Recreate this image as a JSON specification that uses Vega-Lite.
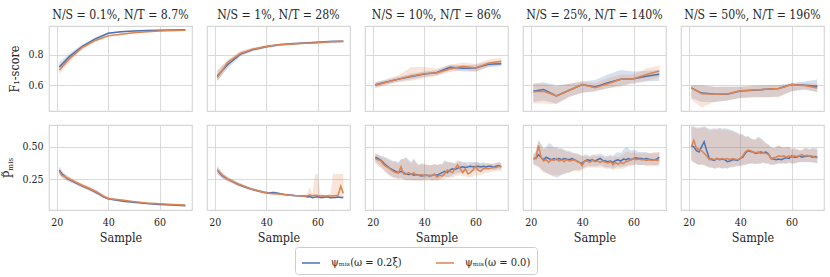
{
"$schema": "https://vega.github.io/schema/vega-lite/v6.json",
"padding": {"left": 2, "top": 8, "right": 5, "bottom": 5},
"background": "white",
"config": {
  "font": "'DejaVu Serif Condensed', 'DejaVu Serif', serif",
  "view": {"stroke": "#d6d6d6", "strokeWidth": 1.2},
  "axis": {"grid": true, "gridColor": "#d9d9d9", "gridWidth": 1, "domain": false, "ticks": false, "labelFontSize": 10.5, "titleFontSize": 12.5, "labelColor": "#262626", "titleColor": "#262626", "titleFontWeight": "normal", "labelFont": "'DejaVu Serif Condensed', 'DejaVu Serif', serif", "titleFont": "'DejaVu Serif Condensed', 'DejaVu Serif', serif"},
  "header": {"labelFont": "'DejaVu Serif Condensed', 'DejaVu Serif', serif", "labelFontSize": 12.2, "labelColor": "#262626"},
  "legend": {"labelFont": "'DejaVu Serif Condensed', 'DejaVu Serif', serif"}
},
"datasets": {
"top": [
{"p":1,"s":"a","x":21,"m":0.72,"l":0.69,"h":0.75},{"p":1,"s":"a","x":25,"m":0.79,"l":0.77,"h":0.81},{"p":1,"s":"a","x":30,"m":0.855,"l":0.84,"h":0.87},{"p":1,"s":"a","x":35,"m":0.905,"l":0.895,"h":0.915},{"p":1,"s":"a","x":40,"m":0.942,"l":0.935,"h":0.948},{"p":1,"s":"a","x":45,"m":0.952,"l":0.947,"h":0.957},{"p":1,"s":"a","x":50,"m":0.957,"l":0.953,"h":0.961},{"p":1,"s":"a","x":55,"m":0.96,"l":0.956,"h":0.964},{"p":1,"s":"a","x":60,"m":0.962,"l":0.958,"h":0.966},{"p":1,"s":"a","x":65,"m":0.963,"l":0.96,"h":0.967},{"p":1,"s":"a","x":70,"m":0.965,"l":0.962,"h":0.968},
{"p":1,"s":"b","x":21,"m":0.70,"l":0.67,"h":0.73},{"p":1,"s":"b","x":25,"m":0.775,"l":0.755,"h":0.795},{"p":1,"s":"b","x":30,"m":0.85,"l":0.835,"h":0.865},{"p":1,"s":"b","x":35,"m":0.895,"l":0.885,"h":0.905},{"p":1,"s":"b","x":40,"m":0.925,"l":0.918,"h":0.932},{"p":1,"s":"b","x":45,"m":0.935,"l":0.929,"h":0.941},{"p":1,"s":"b","x":50,"m":0.945,"l":0.94,"h":0.95},{"p":1,"s":"b","x":55,"m":0.952,"l":0.948,"h":0.956},{"p":1,"s":"b","x":60,"m":0.957,"l":0.953,"h":0.961},{"p":1,"s":"b","x":65,"m":0.96,"l":0.956,"h":0.964},{"p":1,"s":"b","x":70,"m":0.962,"l":0.959,"h":0.966},
{"p":2,"s":"a","x":21,"m":0.66,"l":0.63,"h":0.69},{"p":2,"s":"a","x":25,"m":0.735,"l":0.71,"h":0.76},{"p":2,"s":"a","x":30,"m":0.805,"l":0.79,"h":0.82},{"p":2,"s":"a","x":35,"m":0.835,"l":0.825,"h":0.845},{"p":2,"s":"a","x":40,"m":0.853,"l":0.845,"h":0.861},{"p":2,"s":"a","x":45,"m":0.866,"l":0.859,"h":0.873},{"p":2,"s":"a","x":50,"m":0.873,"l":0.866,"h":0.88},{"p":2,"s":"a","x":55,"m":0.878,"l":0.871,"h":0.885},{"p":2,"s":"a","x":60,"m":0.883,"l":0.876,"h":0.89},{"p":2,"s":"a","x":65,"m":0.888,"l":0.882,"h":0.894},{"p":2,"s":"a","x":70,"m":0.89,"l":0.884,"h":0.896},
{"p":2,"s":"b","x":21,"m":0.65,"l":0.62,"h":0.70},{"p":2,"s":"b","x":25,"m":0.75,"l":0.73,"h":0.77},{"p":2,"s":"b","x":30,"m":0.81,"l":0.795,"h":0.825},{"p":2,"s":"b","x":35,"m":0.838,"l":0.828,"h":0.848},{"p":2,"s":"b","x":40,"m":0.855,"l":0.847,"h":0.863},{"p":2,"s":"b","x":45,"m":0.867,"l":0.86,"h":0.874},{"p":2,"s":"b","x":50,"m":0.872,"l":0.865,"h":0.879},{"p":2,"s":"b","x":55,"m":0.876,"l":0.869,"h":0.883},{"p":2,"s":"b","x":60,"m":0.88,"l":0.873,"h":0.887},{"p":2,"s":"b","x":65,"m":0.886,"l":0.88,"h":0.893},{"p":2,"s":"b","x":70,"m":0.888,"l":0.882,"h":0.895},
{"p":3,"s":"a","x":21,"m":0.603,"l":0.585,"h":0.62},{"p":3,"s":"a","x":25,"m":0.62,"l":0.605,"h":0.635},{"p":3,"s":"a","x":30,"m":0.64,"l":0.625,"h":0.655},{"p":3,"s":"a","x":35,"m":0.657,"l":0.64,"h":0.675},{"p":3,"s":"a","x":40,"m":0.673,"l":0.655,"h":0.69},{"p":3,"s":"a","x":45,"m":0.684,"l":0.665,"h":0.70},{"p":3,"s":"a","x":50,"m":0.718,"l":0.70,"h":0.735},{"p":3,"s":"a","x":55,"m":0.712,"l":0.69,"h":0.73},{"p":3,"s":"a","x":60,"m":0.713,"l":0.69,"h":0.735},{"p":3,"s":"a","x":65,"m":0.738,"l":0.72,"h":0.755},{"p":3,"s":"a","x":70,"m":0.742,"l":0.725,"h":0.76},
{"p":3,"s":"b","x":21,"m":0.60,"l":0.58,"h":0.62},{"p":3,"s":"b","x":25,"m":0.618,"l":0.60,"h":0.64},{"p":3,"s":"b","x":30,"m":0.64,"l":0.62,"h":0.665},{"p":3,"s":"b","x":35,"m":0.66,"l":0.63,"h":0.72},{"p":3,"s":"b","x":40,"m":0.675,"l":0.645,"h":0.72},{"p":3,"s":"b","x":45,"m":0.682,"l":0.66,"h":0.71},{"p":3,"s":"b","x":50,"m":0.707,"l":0.685,"h":0.735},{"p":3,"s":"b","x":55,"m":0.725,"l":0.70,"h":0.75},{"p":3,"s":"b","x":60,"m":0.713,"l":0.69,"h":0.74},{"p":3,"s":"b","x":65,"m":0.745,"l":0.72,"h":0.77},{"p":3,"s":"b","x":70,"m":0.758,"l":0.735,"h":0.78},
{"p":4,"s":"a","x":21,"m":0.56,"l":0.49,"h":0.61},{"p":4,"s":"a","x":25,"m":0.572,"l":0.50,"h":0.62},{"p":4,"s":"a","x":30,"m":0.53,"l":0.48,"h":0.60},{"p":4,"s":"a","x":35,"m":0.567,"l":0.525,"h":0.61},{"p":4,"s":"a","x":40,"m":0.604,"l":0.55,"h":0.625},{"p":4,"s":"a","x":45,"m":0.589,"l":0.56,"h":0.635},{"p":4,"s":"a","x":50,"m":0.617,"l":0.58,"h":0.67},{"p":4,"s":"a","x":55,"m":0.639,"l":0.60,"h":0.70},{"p":4,"s":"a","x":60,"m":0.643,"l":0.61,"h":0.69},{"p":4,"s":"a","x":65,"m":0.659,"l":0.625,"h":0.695},{"p":4,"s":"a","x":70,"m":0.672,"l":0.63,"h":0.70},
{"p":4,"s":"b","x":21,"m":0.557,"l":0.48,"h":0.61},{"p":4,"s":"b","x":25,"m":0.56,"l":0.48,"h":0.61},{"p":4,"s":"b","x":30,"m":0.53,"l":0.475,"h":0.59},{"p":4,"s":"b","x":35,"m":0.567,"l":0.52,"h":0.61},{"p":4,"s":"b","x":40,"m":0.604,"l":0.55,"h":0.625},{"p":4,"s":"b","x":45,"m":0.583,"l":0.56,"h":0.615},{"p":4,"s":"b","x":50,"m":0.61,"l":0.58,"h":0.645},{"p":4,"s":"b","x":55,"m":0.639,"l":0.59,"h":0.67},{"p":4,"s":"b","x":60,"m":0.643,"l":0.62,"h":0.67},{"p":4,"s":"b","x":65,"m":0.67,"l":0.63,"h":0.71},{"p":4,"s":"b","x":70,"m":0.693,"l":0.65,"h":0.73},
{"p":5,"s":"a","x":21,"m":0.582,"l":0.515,"h":0.60},{"p":5,"s":"a","x":25,"m":0.548,"l":0.49,"h":0.60},{"p":5,"s":"a","x":30,"m":0.542,"l":0.49,"h":0.59},{"p":5,"s":"a","x":35,"m":0.54,"l":0.50,"h":0.59},{"p":5,"s":"a","x":40,"m":0.562,"l":0.515,"h":0.59},{"p":5,"s":"a","x":45,"m":0.567,"l":0.52,"h":0.595},{"p":5,"s":"a","x":50,"m":0.573,"l":0.52,"h":0.60},{"p":5,"s":"a","x":55,"m":0.578,"l":0.525,"h":0.60},{"p":5,"s":"a","x":60,"m":0.604,"l":0.56,"h":0.615},{"p":5,"s":"a","x":65,"m":0.60,"l":0.57,"h":0.625},{"p":5,"s":"a","x":70,"m":0.593,"l":0.555,"h":0.637},
{"p":5,"s":"b","x":21,"m":0.582,"l":0.505,"h":0.60},{"p":5,"s":"b","x":25,"m":0.544,"l":0.453,"h":0.60},{"p":5,"s":"b","x":30,"m":0.542,"l":0.49,"h":0.59},{"p":5,"s":"b","x":35,"m":0.542,"l":0.50,"h":0.59},{"p":5,"s":"b","x":40,"m":0.564,"l":0.515,"h":0.59},{"p":5,"s":"b","x":45,"m":0.569,"l":0.52,"h":0.60},{"p":5,"s":"b","x":50,"m":0.573,"l":0.52,"h":0.60},{"p":5,"s":"b","x":55,"m":0.578,"l":0.52,"h":0.60},{"p":5,"s":"b","x":60,"m":0.604,"l":0.56,"h":0.61},{"p":5,"s":"b","x":65,"m":0.598,"l":0.575,"h":0.615},{"p":5,"s":"b","x":70,"m":0.582,"l":0.553,"h":0.61}
],
"bottom": [
{"p":1,"s":"a","x":21,"m":0.32,"l":0.29,"h":0.35},{"p":1,"s":"a","x":22,"m":0.29,"l":0.265,"h":0.315},{"p":1,"s":"a","x":24,"m":0.255,"l":0.235,"h":0.275},{"p":1,"s":"a","x":27,"m":0.225,"l":0.21,"h":0.24},{"p":1,"s":"a","x":30,"m":0.195,"l":0.18,"h":0.21},{"p":1,"s":"a","x":33,"m":0.17,"l":0.155,"h":0.185},{"p":1,"s":"a","x":36,"m":0.14,"l":0.125,"h":0.155},{"p":1,"s":"a","x":38,"m":0.115,"l":0.103,"h":0.127},{"p":1,"s":"a","x":40,"m":0.098,"l":0.088,"h":0.108},{"p":1,"s":"a","x":43,"m":0.088,"l":0.079,"h":0.097},{"p":1,"s":"a","x":46,"m":0.078,"l":0.07,"h":0.086},{"p":1,"s":"a","x":50,"m":0.07,"l":0.063,"h":0.077},{"p":1,"s":"a","x":55,"m":0.06,"l":0.054,"h":0.066},{"p":1,"s":"a","x":60,"m":0.053,"l":0.048,"h":0.058},{"p":1,"s":"a","x":65,"m":0.048,"l":0.043,"h":0.053},{"p":1,"s":"a","x":70,"m":0.043,"l":0.039,"h":0.047},
{"p":1,"s":"b","x":21,"m":0.31,"l":0.28,"h":0.34},{"p":1,"s":"b","x":22,"m":0.28,"l":0.26,"h":0.30},{"p":1,"s":"b","x":24,"m":0.26,"l":0.24,"h":0.28},{"p":1,"s":"b","x":27,"m":0.23,"l":0.215,"h":0.245},{"p":1,"s":"b","x":30,"m":0.20,"l":0.185,"h":0.215},{"p":1,"s":"b","x":33,"m":0.175,"l":0.16,"h":0.19},{"p":1,"s":"b","x":36,"m":0.145,"l":0.13,"h":0.16},{"p":1,"s":"b","x":38,"m":0.12,"l":0.108,"h":0.132},{"p":1,"s":"b","x":40,"m":0.10,"l":0.09,"h":0.11},{"p":1,"s":"b","x":43,"m":0.092,"l":0.083,"h":0.101},{"p":1,"s":"b","x":46,"m":0.085,"l":0.077,"h":0.093},{"p":1,"s":"b","x":50,"m":0.075,"l":0.068,"h":0.082},{"p":1,"s":"b","x":55,"m":0.065,"l":0.059,"h":0.071},{"p":1,"s":"b","x":60,"m":0.058,"l":0.053,"h":0.063},{"p":1,"s":"b","x":65,"m":0.053,"l":0.048,"h":0.058},{"p":1,"s":"b","x":70,"m":0.048,"l":0.044,"h":0.052},
{"p":2,"s":"a","x":21,"m":0.32,"l":0.29,"h":0.35},{"p":2,"s":"a","x":22,"m":0.295,"l":0.27,"h":0.32},{"p":2,"s":"a","x":23,"m":0.275,"l":0.255,"h":0.295},{"p":2,"s":"a","x":25,"m":0.25,"l":0.232,"h":0.268},{"p":2,"s":"a","x":27,"m":0.23,"l":0.215,"h":0.245},{"p":2,"s":"a","x":29,"m":0.21,"l":0.196,"h":0.224},{"p":2,"s":"a","x":31,"m":0.195,"l":0.182,"h":0.208},{"p":2,"s":"a","x":33,"m":0.18,"l":0.168,"h":0.192},{"p":2,"s":"a","x":35,"m":0.168,"l":0.157,"h":0.179},{"p":2,"s":"a","x":37,"m":0.157,"l":0.147,"h":0.167},{"p":2,"s":"a","x":39,"m":0.148,"l":0.139,"h":0.157},{"p":2,"s":"a","x":41,"m":0.142,"l":0.133,"h":0.151},{"p":2,"s":"a","x":43,"m":0.145,"l":0.136,"h":0.154},{"p":2,"s":"a","x":45,"m":0.138,"l":0.13,"h":0.146},{"p":2,"s":"a","x":47,"m":0.13,"l":0.122,"h":0.138},{"p":2,"s":"a","x":49,"m":0.127,"l":0.12,"h":0.134},{"p":2,"s":"a","x":51,"m":0.122,"l":0.115,"h":0.129},{"p":2,"s":"a","x":53,"m":0.12,"l":0.113,"h":0.127},{"p":2,"s":"a","x":55,"m":0.118,"l":0.111,"h":0.125},{"p":2,"s":"a","x":56,"m":0.112,"l":0.105,"h":0.119},{"p":2,"s":"a","x":57,"m":0.114,"l":0.107,"h":0.121},{"p":2,"s":"a","x":58,"m":0.106,"l":0.1,"h":0.112},{"p":2,"s":"a","x":59,"m":0.11,"l":0.104,"h":0.116},{"p":2,"s":"a","x":60,"m":0.112,"l":0.106,"h":0.118},{"p":2,"s":"a","x":61,"m":0.108,"l":0.102,"h":0.114},{"p":2,"s":"a","x":62,"m":0.107,"l":0.101,"h":0.113},{"p":2,"s":"a","x":63,"m":0.11,"l":0.104,"h":0.116},{"p":2,"s":"a","x":64,"m":0.11,"l":0.104,"h":0.116},{"p":2,"s":"a","x":65,"m":0.106,"l":0.1,"h":0.112},{"p":2,"s":"a","x":66,"m":0.108,"l":0.102,"h":0.114},{"p":2,"s":"a","x":67,"m":0.107,"l":0.101,"h":0.113},{"p":2,"s":"a","x":68,"m":0.11,"l":0.104,"h":0.116},{"p":2,"s":"a","x":69,"m":0.108,"l":0.102,"h":0.114},{"p":2,"s":"a","x":70,"m":0.108,"l":0.102,"h":0.114},
{"p":2,"s":"b","x":21,"m":0.32,"l":0.29,"h":0.35},{"p":2,"s":"b","x":22,"m":0.30,"l":0.275,"h":0.325},{"p":2,"s":"b","x":23,"m":0.28,"l":0.26,"h":0.30},{"p":2,"s":"b","x":25,"m":0.25,"l":0.232,"h":0.268},{"p":2,"s":"b","x":27,"m":0.232,"l":0.217,"h":0.247},{"p":2,"s":"b","x":29,"m":0.213,"l":0.199,"h":0.227},{"p":2,"s":"b","x":31,"m":0.197,"l":0.184,"h":0.21},{"p":2,"s":"b","x":33,"m":0.182,"l":0.17,"h":0.194},{"p":2,"s":"b","x":35,"m":0.168,"l":0.157,"h":0.179},{"p":2,"s":"b","x":37,"m":0.158,"l":0.148,"h":0.168},{"p":2,"s":"b","x":39,"m":0.148,"l":0.139,"h":0.157},{"p":2,"s":"b","x":41,"m":0.14,"l":0.131,"h":0.149},{"p":2,"s":"b","x":43,"m":0.137,"l":0.129,"h":0.145},{"p":2,"s":"b","x":45,"m":0.135,"l":0.127,"h":0.143},{"p":2,"s":"b","x":47,"m":0.13,"l":0.122,"h":0.138},{"p":2,"s":"b","x":49,"m":0.125,"l":0.118,"h":0.132},{"p":2,"s":"b","x":51,"m":0.122,"l":0.115,"h":0.129},{"p":2,"s":"b","x":53,"m":0.12,"l":0.113,"h":0.127},{"p":2,"s":"b","x":55,"m":0.117,"l":0.11,"h":0.124},{"p":2,"s":"b","x":56,"m":0.12,"l":0.112,"h":0.14},{"p":2,"s":"b","x":57,"m":0.128,"l":0.112,"h":0.19},{"p":2,"s":"b","x":58,"m":0.12,"l":0.112,"h":0.14},{"p":2,"s":"b","x":59,"m":0.125,"l":0.112,"h":0.29},{"p":2,"s":"b","x":60,"m":0.122,"l":0.112,"h":0.29},{"p":2,"s":"b","x":61,"m":0.118,"l":0.11,"h":0.14},{"p":2,"s":"b","x":62,"m":0.12,"l":0.112,"h":0.13},{"p":2,"s":"b","x":63,"m":0.118,"l":0.11,"h":0.126},{"p":2,"s":"b","x":64,"m":0.12,"l":0.112,"h":0.128},{"p":2,"s":"b","x":65,"m":0.118,"l":0.11,"h":0.14},{"p":2,"s":"b","x":66,"m":0.12,"l":0.112,"h":0.29},{"p":2,"s":"b","x":67,"m":0.12,"l":0.112,"h":0.29},{"p":2,"s":"b","x":68,"m":0.125,"l":0.112,"h":0.29},{"p":2,"s":"b","x":69,"m":0.195,"l":0.112,"h":0.29},{"p":2,"s":"b","x":70,"m":0.14,"l":0.112,"h":0.29},
{"p":3,"s":"a","x":21,"m":0.42,"l":0.38,"h":0.45},{"p":3,"s":"a","x":22,"m":0.41,"l":0.37,"h":0.44},{"p":3,"s":"a","x":23,"m":0.40,"l":0.35,"h":0.43},{"p":3,"s":"a","x":24,"m":0.38,"l":0.33,"h":0.43},{"p":3,"s":"a","x":25,"m":0.36,"l":0.31,"h":0.42},{"p":3,"s":"a","x":26,"m":0.345,"l":0.29,"h":0.41},{"p":3,"s":"a","x":27,"m":0.33,"l":0.275,"h":0.40},{"p":3,"s":"a","x":28,"m":0.32,"l":0.265,"h":0.39},{"p":3,"s":"a","x":29,"m":0.31,"l":0.26,"h":0.39},{"p":3,"s":"a","x":30,"m":0.30,"l":0.255,"h":0.38},{"p":3,"s":"a","x":31,"m":0.31,"l":0.255,"h":0.40},{"p":3,"s":"a","x":32,"m":0.30,"l":0.25,"h":0.41},{"p":3,"s":"a","x":33,"m":0.29,"l":0.245,"h":0.42},{"p":3,"s":"a","x":34,"m":0.285,"l":0.245,"h":0.40},{"p":3,"s":"a","x":35,"m":0.29,"l":0.245,"h":0.38},{"p":3,"s":"a","x":36,"m":0.28,"l":0.24,"h":0.41},{"p":3,"s":"a","x":37,"m":0.285,"l":0.245,"h":0.38},{"p":3,"s":"a","x":38,"m":0.28,"l":0.245,"h":0.36},{"p":3,"s":"a","x":39,"m":0.275,"l":0.24,"h":0.37},{"p":3,"s":"a","x":40,"m":0.28,"l":0.245,"h":0.36},{"p":3,"s":"a","x":41,"m":0.28,"l":0.25,"h":0.36},{"p":3,"s":"a","x":42,"m":0.275,"l":0.25,"h":0.355},{"p":3,"s":"a","x":43,"m":0.28,"l":0.24,"h":0.36},{"p":3,"s":"a","x":44,"m":0.285,"l":0.245,"h":0.365},{"p":3,"s":"a","x":45,"m":0.28,"l":0.245,"h":0.36},{"p":3,"s":"a","x":46,"m":0.29,"l":0.25,"h":0.365},{"p":3,"s":"a","x":47,"m":0.30,"l":0.26,"h":0.37},{"p":3,"s":"a","x":48,"m":0.31,"l":0.27,"h":0.40},{"p":3,"s":"a","x":49,"m":0.30,"l":0.265,"h":0.38},{"p":3,"s":"a","x":50,"m":0.32,"l":0.27,"h":0.38},{"p":3,"s":"a","x":51,"m":0.33,"l":0.28,"h":0.38},{"p":3,"s":"a","x":52,"m":0.325,"l":0.29,"h":0.37},{"p":3,"s":"a","x":53,"m":0.335,"l":0.295,"h":0.38},{"p":3,"s":"a","x":54,"m":0.34,"l":0.30,"h":0.39},{"p":3,"s":"a","x":55,"m":0.345,"l":0.305,"h":0.385},{"p":3,"s":"a","x":56,"m":0.34,"l":0.305,"h":0.38},{"p":3,"s":"a","x":57,"m":0.345,"l":0.31,"h":0.38},{"p":3,"s":"a","x":58,"m":0.35,"l":0.315,"h":0.385},{"p":3,"s":"a","x":59,"m":0.345,"l":0.31,"h":0.38},{"p":3,"s":"a","x":60,"m":0.345,"l":0.315,"h":0.38},{"p":3,"s":"a","x":61,"m":0.35,"l":0.32,"h":0.38},{"p":3,"s":"a","x":62,"m":0.345,"l":0.315,"h":0.375},{"p":3,"s":"a","x":63,"m":0.35,"l":0.32,"h":0.38},{"p":3,"s":"a","x":64,"m":0.345,"l":0.32,"h":0.375},{"p":3,"s":"a","x":65,"m":0.35,"l":0.32,"h":0.375},{"p":3,"s":"a","x":66,"m":0.35,"l":0.325,"h":0.37},{"p":3,"s":"a","x":67,"m":0.34,"l":0.32,"h":0.37},{"p":3,"s":"a","x":68,"m":0.35,"l":0.325,"h":0.375},{"p":3,"s":"a","x":69,"m":0.355,"l":0.33,"h":0.38},{"p":3,"s":"a","x":70,"m":0.345,"l":0.32,"h":0.37},
{"p":3,"s":"b","x":21,"m":0.41,"l":0.37,"h":0.45},{"p":3,"s":"b","x":22,"m":0.40,"l":0.36,"h":0.44},{"p":3,"s":"b","x":23,"m":0.395,"l":0.34,"h":0.43},{"p":3,"s":"b","x":24,"m":0.37,"l":0.32,"h":0.42},{"p":3,"s":"b","x":25,"m":0.35,"l":0.30,"h":0.41},{"p":3,"s":"b","x":26,"m":0.34,"l":0.285,"h":0.40},{"p":3,"s":"b","x":27,"m":0.325,"l":0.27,"h":0.39},{"p":3,"s":"b","x":28,"m":0.31,"l":0.26,"h":0.38},{"p":3,"s":"b","x":29,"m":0.30,"l":0.255,"h":0.38},{"p":3,"s":"b","x":30,"m":0.30,"l":0.25,"h":0.37},{"p":3,"s":"b","x":31,"m":0.345,"l":0.26,"h":0.41},{"p":3,"s":"b","x":32,"m":0.29,"l":0.245,"h":0.40},{"p":3,"s":"b","x":33,"m":0.29,"l":0.24,"h":0.41},{"p":3,"s":"b","x":34,"m":0.30,"l":0.24,"h":0.39},{"p":3,"s":"b","x":35,"m":0.285,"l":0.24,"h":0.37},{"p":3,"s":"b","x":36,"m":0.30,"l":0.24,"h":0.40},{"p":3,"s":"b","x":37,"m":0.28,"l":0.235,"h":0.37},{"p":3,"s":"b","x":38,"m":0.28,"l":0.235,"h":0.36},{"p":3,"s":"b","x":39,"m":0.285,"l":0.24,"h":0.375},{"p":3,"s":"b","x":40,"m":0.275,"l":0.235,"h":0.37},{"p":3,"s":"b","x":41,"m":0.28,"l":0.24,"h":0.365},{"p":3,"s":"b","x":42,"m":0.28,"l":0.24,"h":0.36},{"p":3,"s":"b","x":43,"m":0.275,"l":0.235,"h":0.36},{"p":3,"s":"b","x":44,"m":0.29,"l":0.24,"h":0.37},{"p":3,"s":"b","x":45,"m":0.265,"l":0.235,"h":0.36},{"p":3,"s":"b","x":46,"m":0.28,"l":0.24,"h":0.37},{"p":3,"s":"b","x":47,"m":0.275,"l":0.245,"h":0.36},{"p":3,"s":"b","x":48,"m":0.29,"l":0.25,"h":0.38},{"p":3,"s":"b","x":49,"m":0.32,"l":0.26,"h":0.39},{"p":3,"s":"b","x":50,"m":0.31,"l":0.26,"h":0.38},{"p":3,"s":"b","x":51,"m":0.30,"l":0.26,"h":0.37},{"p":3,"s":"b","x":52,"m":0.33,"l":0.27,"h":0.38},{"p":3,"s":"b","x":53,"m":0.36,"l":0.28,"h":0.40},{"p":3,"s":"b","x":54,"m":0.33,"l":0.28,"h":0.385},{"p":3,"s":"b","x":55,"m":0.30,"l":0.27,"h":0.37},{"p":3,"s":"b","x":56,"m":0.33,"l":0.27,"h":0.38},{"p":3,"s":"b","x":57,"m":0.29,"l":0.265,"h":0.36},{"p":3,"s":"b","x":58,"m":0.30,"l":0.265,"h":0.37},{"p":3,"s":"b","x":59,"m":0.32,"l":0.27,"h":0.375},{"p":3,"s":"b","x":60,"m":0.35,"l":0.28,"h":0.385},{"p":3,"s":"b","x":61,"m":0.32,"l":0.28,"h":0.375},{"p":3,"s":"b","x":62,"m":0.31,"l":0.28,"h":0.37},{"p":3,"s":"b","x":63,"m":0.33,"l":0.29,"h":0.37},{"p":3,"s":"b","x":64,"m":0.335,"l":0.30,"h":0.37},{"p":3,"s":"b","x":65,"m":0.33,"l":0.30,"h":0.365},{"p":3,"s":"b","x":66,"m":0.335,"l":0.305,"h":0.37},{"p":3,"s":"b","x":67,"m":0.34,"l":0.31,"h":0.37},{"p":3,"s":"b","x":68,"m":0.34,"l":0.31,"h":0.375},{"p":3,"s":"b","x":69,"m":0.35,"l":0.315,"h":0.38},{"p":3,"s":"b","x":70,"m":0.345,"l":0.315,"h":0.375},
{"p":4,"s":"a","x":21,"m":0.41,"l":0.37,"h":0.44},{"p":4,"s":"a","x":22,"m":0.41,"l":0.36,"h":0.46},{"p":4,"s":"a","x":23,"m":0.44,"l":0.35,"h":0.55},{"p":4,"s":"a","x":24,"m":0.42,"l":0.33,"h":0.52},{"p":4,"s":"a","x":25,"m":0.40,"l":0.31,"h":0.49},{"p":4,"s":"a","x":26,"m":0.42,"l":0.30,"h":0.50},{"p":4,"s":"a","x":27,"m":0.41,"l":0.29,"h":0.53},{"p":4,"s":"a","x":28,"m":0.40,"l":0.28,"h":0.52},{"p":4,"s":"a","x":29,"m":0.41,"l":0.27,"h":0.50},{"p":4,"s":"a","x":30,"m":0.40,"l":0.26,"h":0.50},{"p":4,"s":"a","x":31,"m":0.41,"l":0.27,"h":0.49},{"p":4,"s":"a","x":32,"m":0.40,"l":0.28,"h":0.49},{"p":4,"s":"a","x":33,"m":0.41,"l":0.29,"h":0.48},{"p":4,"s":"a","x":34,"m":0.405,"l":0.30,"h":0.47},{"p":4,"s":"a","x":35,"m":0.40,"l":0.30,"h":0.47},{"p":4,"s":"a","x":36,"m":0.41,"l":0.31,"h":0.46},{"p":4,"s":"a","x":37,"m":0.40,"l":0.32,"h":0.45},{"p":4,"s":"a","x":38,"m":0.39,"l":0.32,"h":0.45},{"p":4,"s":"a","x":39,"m":0.38,"l":0.32,"h":0.44},{"p":4,"s":"a","x":40,"m":0.37,"l":0.33,"h":0.43},{"p":4,"s":"a","x":41,"m":0.39,"l":0.34,"h":0.44},{"p":4,"s":"a","x":42,"m":0.40,"l":0.35,"h":0.44},{"p":4,"s":"a","x":43,"m":0.395,"l":0.35,"h":0.43},{"p":4,"s":"a","x":44,"m":0.40,"l":0.35,"h":0.44},{"p":4,"s":"a","x":45,"m":0.39,"l":0.35,"h":0.44},{"p":4,"s":"a","x":46,"m":0.40,"l":0.35,"h":0.44},{"p":4,"s":"a","x":47,"m":0.41,"l":0.36,"h":0.45},{"p":4,"s":"a","x":48,"m":0.395,"l":0.35,"h":0.44},{"p":4,"s":"a","x":49,"m":0.39,"l":0.34,"h":0.43},{"p":4,"s":"a","x":50,"m":0.385,"l":0.34,"h":0.43},{"p":4,"s":"a","x":51,"m":0.39,"l":0.34,"h":0.44},{"p":4,"s":"a","x":52,"m":0.38,"l":0.33,"h":0.43},{"p":4,"s":"a","x":53,"m":0.395,"l":0.34,"h":0.45},{"p":4,"s":"a","x":54,"m":0.40,"l":0.35,"h":0.46},{"p":4,"s":"a","x":55,"m":0.39,"l":0.34,"h":0.45},{"p":4,"s":"a","x":56,"m":0.405,"l":0.35,"h":0.48},{"p":4,"s":"a","x":57,"m":0.40,"l":0.35,"h":0.50},{"p":4,"s":"a","x":58,"m":0.41,"l":0.36,"h":0.49},{"p":4,"s":"a","x":59,"m":0.40,"l":0.36,"h":0.47},{"p":4,"s":"a","x":60,"m":0.41,"l":0.36,"h":0.48},{"p":4,"s":"a","x":61,"m":0.415,"l":0.37,"h":0.47},{"p":4,"s":"a","x":62,"m":0.41,"l":0.36,"h":0.46},{"p":4,"s":"a","x":63,"m":0.41,"l":0.36,"h":0.46},{"p":4,"s":"a","x":64,"m":0.405,"l":0.36,"h":0.46},{"p":4,"s":"a","x":65,"m":0.41,"l":0.36,"h":0.46},{"p":4,"s":"a","x":66,"m":0.405,"l":0.36,"h":0.45},{"p":4,"s":"a","x":67,"m":0.40,"l":0.36,"h":0.45},{"p":4,"s":"a","x":68,"m":0.40,"l":0.36,"h":0.45},{"p":4,"s":"a","x":69,"m":0.405,"l":0.36,"h":0.45},{"p":4,"s":"a","x":70,"m":0.42,"l":0.37,"h":0.46},
{"p":4,"s":"b","x":21,"m":0.41,"l":0.36,"h":0.44},{"p":4,"s":"b","x":22,"m":0.41,"l":0.35,"h":0.47},{"p":4,"s":"b","x":23,"m":0.51,"l":0.34,"h":0.56},{"p":4,"s":"b","x":24,"m":0.42,"l":0.32,"h":0.52},{"p":4,"s":"b","x":25,"m":0.39,"l":0.30,"h":0.48},{"p":4,"s":"b","x":26,"m":0.40,"l":0.30,"h":0.49},{"p":4,"s":"b","x":27,"m":0.38,"l":0.29,"h":0.50},{"p":4,"s":"b","x":28,"m":0.40,"l":0.28,"h":0.50},{"p":4,"s":"b","x":29,"m":0.395,"l":0.28,"h":0.49},{"p":4,"s":"b","x":30,"m":0.41,"l":0.28,"h":0.49},{"p":4,"s":"b","x":31,"m":0.39,"l":0.28,"h":0.48},{"p":4,"s":"b","x":32,"m":0.40,"l":0.29,"h":0.48},{"p":4,"s":"b","x":33,"m":0.385,"l":0.29,"h":0.47},{"p":4,"s":"b","x":34,"m":0.40,"l":0.30,"h":0.46},{"p":4,"s":"b","x":35,"m":0.39,"l":0.30,"h":0.46},{"p":4,"s":"b","x":36,"m":0.395,"l":0.31,"h":0.45},{"p":4,"s":"b","x":37,"m":0.40,"l":0.31,"h":0.45},{"p":4,"s":"b","x":38,"m":0.385,"l":0.31,"h":0.44},{"p":4,"s":"b","x":39,"m":0.38,"l":0.31,"h":0.44},{"p":4,"s":"b","x":40,"m":0.355,"l":0.32,"h":0.43},{"p":4,"s":"b","x":41,"m":0.39,"l":0.33,"h":0.43},{"p":4,"s":"b","x":42,"m":0.39,"l":0.34,"h":0.43},{"p":4,"s":"b","x":43,"m":0.38,"l":0.34,"h":0.42},{"p":4,"s":"b","x":44,"m":0.395,"l":0.34,"h":0.43},{"p":4,"s":"b","x":45,"m":0.385,"l":0.34,"h":0.43},{"p":4,"s":"b","x":46,"m":0.39,"l":0.34,"h":0.43},{"p":4,"s":"b","x":47,"m":0.38,"l":0.34,"h":0.43},{"p":4,"s":"b","x":48,"m":0.39,"l":0.34,"h":0.43},{"p":4,"s":"b","x":49,"m":0.38,"l":0.33,"h":0.42},{"p":4,"s":"b","x":50,"m":0.375,"l":0.33,"h":0.42},{"p":4,"s":"b","x":51,"m":0.385,"l":0.33,"h":0.43},{"p":4,"s":"b","x":52,"m":0.36,"l":0.32,"h":0.42},{"p":4,"s":"b","x":53,"m":0.38,"l":0.33,"h":0.43},{"p":4,"s":"b","x":54,"m":0.365,"l":0.33,"h":0.42},{"p":4,"s":"b","x":55,"m":0.38,"l":0.33,"h":0.43},{"p":4,"s":"b","x":56,"m":0.37,"l":0.33,"h":0.44},{"p":4,"s":"b","x":57,"m":0.385,"l":0.34,"h":0.46},{"p":4,"s":"b","x":58,"m":0.39,"l":0.35,"h":0.46},{"p":4,"s":"b","x":59,"m":0.40,"l":0.35,"h":0.45},{"p":4,"s":"b","x":60,"m":0.41,"l":0.36,"h":0.46},{"p":4,"s":"b","x":61,"m":0.40,"l":0.36,"h":0.45},{"p":4,"s":"b","x":62,"m":0.405,"l":0.36,"h":0.45},{"p":4,"s":"b","x":63,"m":0.40,"l":0.36,"h":0.45},{"p":4,"s":"b","x":64,"m":0.40,"l":0.36,"h":0.45},{"p":4,"s":"b","x":65,"m":0.395,"l":0.35,"h":0.45},{"p":4,"s":"b","x":66,"m":0.40,"l":0.35,"h":0.45},{"p":4,"s":"b","x":67,"m":0.395,"l":0.35,"h":0.45},{"p":4,"s":"b","x":68,"m":0.40,"l":0.35,"h":0.46},{"p":4,"s":"b","x":69,"m":0.395,"l":0.35,"h":0.46},{"p":4,"s":"b","x":70,"m":0.40,"l":0.35,"h":0.46},
{"p":5,"s":"a","x":21,"m":0.51,"l":0.40,"h":0.66},{"p":5,"s":"a","x":22,"m":0.50,"l":0.38,"h":0.66},{"p":5,"s":"a","x":23,"m":0.47,"l":0.37,"h":0.65},{"p":5,"s":"a","x":24,"m":0.46,"l":0.36,"h":0.65},{"p":5,"s":"a","x":25,"m":0.50,"l":0.37,"h":0.655},{"p":5,"s":"a","x":26,"m":0.54,"l":0.36,"h":0.66},{"p":5,"s":"a","x":27,"m":0.47,"l":0.35,"h":0.65},{"p":5,"s":"a","x":28,"m":0.41,"l":0.34,"h":0.64},{"p":5,"s":"a","x":29,"m":0.40,"l":0.34,"h":0.64},{"p":5,"s":"a","x":30,"m":0.395,"l":0.33,"h":0.645},{"p":5,"s":"a","x":31,"m":0.41,"l":0.335,"h":0.64},{"p":5,"s":"a","x":32,"m":0.40,"l":0.34,"h":0.65},{"p":5,"s":"a","x":33,"m":0.405,"l":0.33,"h":0.64},{"p":5,"s":"a","x":34,"m":0.40,"l":0.335,"h":0.645},{"p":5,"s":"a","x":35,"m":0.385,"l":0.33,"h":0.64},{"p":5,"s":"a","x":36,"m":0.39,"l":0.34,"h":0.635},{"p":5,"s":"a","x":37,"m":0.40,"l":0.34,"h":0.63},{"p":5,"s":"a","x":38,"m":0.40,"l":0.345,"h":0.62},{"p":5,"s":"a","x":39,"m":0.395,"l":0.35,"h":0.61},{"p":5,"s":"a","x":40,"m":0.41,"l":0.35,"h":0.60},{"p":5,"s":"a","x":41,"m":0.42,"l":0.355,"h":0.60},{"p":5,"s":"a","x":42,"m":0.45,"l":0.36,"h":0.58},{"p":5,"s":"a","x":43,"m":0.47,"l":0.365,"h":0.585},{"p":5,"s":"a","x":44,"m":0.465,"l":0.37,"h":0.57},{"p":5,"s":"a","x":45,"m":0.46,"l":0.37,"h":0.56},{"p":5,"s":"a","x":46,"m":0.45,"l":0.365,"h":0.56},{"p":5,"s":"a","x":47,"m":0.455,"l":0.37,"h":0.58},{"p":5,"s":"a","x":48,"m":0.46,"l":0.37,"h":0.57},{"p":5,"s":"a","x":49,"m":0.455,"l":0.375,"h":0.55},{"p":5,"s":"a","x":50,"m":0.46,"l":0.37,"h":0.53},{"p":5,"s":"a","x":51,"m":0.445,"l":0.37,"h":0.52},{"p":5,"s":"a","x":52,"m":0.41,"l":0.36,"h":0.50},{"p":5,"s":"a","x":53,"m":0.405,"l":0.36,"h":0.49},{"p":5,"s":"a","x":54,"m":0.40,"l":0.365,"h":0.50},{"p":5,"s":"a","x":55,"m":0.405,"l":0.37,"h":0.51},{"p":5,"s":"a","x":56,"m":0.40,"l":0.37,"h":0.50},{"p":5,"s":"a","x":57,"m":0.41,"l":0.37,"h":0.49},{"p":5,"s":"a","x":58,"m":0.415,"l":0.37,"h":0.50},{"p":5,"s":"a","x":59,"m":0.41,"l":0.375,"h":0.50},{"p":5,"s":"a","x":60,"m":0.43,"l":0.37,"h":0.48},{"p":5,"s":"a","x":61,"m":0.42,"l":0.37,"h":0.49},{"p":5,"s":"a","x":62,"m":0.42,"l":0.375,"h":0.48},{"p":5,"s":"a","x":63,"m":0.43,"l":0.38,"h":0.47},{"p":5,"s":"a","x":64,"m":0.42,"l":0.38,"h":0.47},{"p":5,"s":"a","x":65,"m":0.425,"l":0.38,"h":0.49},{"p":5,"s":"a","x":66,"m":0.43,"l":0.38,"h":0.49},{"p":5,"s":"a","x":67,"m":0.43,"l":0.38,"h":0.48},{"p":5,"s":"a","x":68,"m":0.42,"l":0.38,"h":0.49},{"p":5,"s":"a","x":69,"m":0.425,"l":0.375,"h":0.49},{"p":5,"s":"a","x":70,"m":0.42,"l":0.375,"h":0.49},
{"p":5,"s":"b","x":21,"m":0.50,"l":0.39,"h":0.65},{"p":5,"s":"b","x":22,"m":0.55,"l":0.38,"h":0.65},{"p":5,"s":"b","x":23,"m":0.49,"l":0.37,"h":0.64},{"p":5,"s":"b","x":24,"m":0.48,"l":0.36,"h":0.64},{"p":5,"s":"b","x":25,"m":0.47,"l":0.36,"h":0.645},{"p":5,"s":"b","x":26,"m":0.45,"l":0.355,"h":0.65},{"p":5,"s":"b","x":27,"m":0.43,"l":0.35,"h":0.64},{"p":5,"s":"b","x":28,"m":0.40,"l":0.34,"h":0.63},{"p":5,"s":"b","x":29,"m":0.41,"l":0.34,"h":0.63},{"p":5,"s":"b","x":30,"m":0.40,"l":0.335,"h":0.635},{"p":5,"s":"b","x":31,"m":0.41,"l":0.34,"h":0.63},{"p":5,"s":"b","x":32,"m":0.405,"l":0.34,"h":0.64},{"p":5,"s":"b","x":33,"m":0.41,"l":0.335,"h":0.63},{"p":5,"s":"b","x":34,"m":0.405,"l":0.34,"h":0.635},{"p":5,"s":"b","x":35,"m":0.41,"l":0.335,"h":0.63},{"p":5,"s":"b","x":36,"m":0.40,"l":0.345,"h":0.625},{"p":5,"s":"b","x":37,"m":0.41,"l":0.345,"h":0.62},{"p":5,"s":"b","x":38,"m":0.405,"l":0.35,"h":0.61},{"p":5,"s":"b","x":39,"m":0.40,"l":0.355,"h":0.60},{"p":5,"s":"b","x":40,"m":0.41,"l":0.355,"h":0.59},{"p":5,"s":"b","x":41,"m":0.43,"l":0.36,"h":0.59},{"p":5,"s":"b","x":42,"m":0.46,"l":0.365,"h":0.575},{"p":5,"s":"b","x":43,"m":0.475,"l":0.37,"h":0.58},{"p":5,"s":"b","x":44,"m":0.47,"l":0.375,"h":0.565},{"p":5,"s":"b","x":45,"m":0.46,"l":0.375,"h":0.555},{"p":5,"s":"b","x":46,"m":0.455,"l":0.37,"h":0.555},{"p":5,"s":"b","x":47,"m":0.46,"l":0.375,"h":0.57},{"p":5,"s":"b","x":48,"m":0.45,"l":0.375,"h":0.56},{"p":5,"s":"b","x":49,"m":0.455,"l":0.38,"h":0.545},{"p":5,"s":"b","x":50,"m":0.45,"l":0.375,"h":0.525},{"p":5,"s":"b","x":51,"m":0.44,"l":0.375,"h":0.515},{"p":5,"s":"b","x":52,"m":0.41,"l":0.365,"h":0.50},{"p":5,"s":"b","x":53,"m":0.415,"l":0.365,"h":0.49},{"p":5,"s":"b","x":54,"m":0.42,"l":0.37,"h":0.50},{"p":5,"s":"b","x":55,"m":0.43,"l":0.375,"h":0.51},{"p":5,"s":"b","x":56,"m":0.425,"l":0.375,"h":0.50},{"p":5,"s":"b","x":57,"m":0.43,"l":0.375,"h":0.50},{"p":5,"s":"b","x":58,"m":0.42,"l":0.375,"h":0.50},{"p":5,"s":"b","x":59,"m":0.43,"l":0.38,"h":0.50},{"p":5,"s":"b","x":60,"m":0.42,"l":0.375,"h":0.485},{"p":5,"s":"b","x":61,"m":0.43,"l":0.375,"h":0.49},{"p":5,"s":"b","x":62,"m":0.425,"l":0.38,"h":0.485},{"p":5,"s":"b","x":63,"m":0.43,"l":0.385,"h":0.48},{"p":5,"s":"b","x":64,"m":0.44,"l":0.385,"h":0.48},{"p":5,"s":"b","x":65,"m":0.43,"l":0.385,"h":0.49},{"p":5,"s":"b","x":66,"m":0.435,"l":0.385,"h":0.49},{"p":5,"s":"b","x":67,"m":0.43,"l":0.385,"h":0.485},{"p":5,"s":"b","x":68,"m":0.43,"l":0.38,"h":0.49},{"p":5,"s":"b","x":69,"m":0.42,"l":0.38,"h":0.485},{"p":5,"s":"b","x":70,"m":0.415,"l":0.375,"h":0.48}
]
},
"vconcat": [
{
  "data": {"name": "top"},
  "facet": {"column": {"field": "p", "type": "ordinal", "header": {"title": null, "labelPadding": 4, "labelExpr": "['N/S = 0.1%, N/T = 8.7%','N/S = 1%, N/T = 28%','N/S = 10%, N/T = 86%','N/S = 25%, N/T = 140%','N/S = 50%, N/T = 196%'][datum.value - 1]"}}},
  "spacing": 13,
  "spec": {
    "width": 143, "height": 85,
    "encoding": {"x": {"field": "x", "type": "quantitative", "scale": {"domain": [17, 72.6], "nice": false, "zero": false}, "axis": {"values": [20, 40, 60], "labels": false, "title": null}}},
    "layer": [
      {"mark": {"type": "area", "opacity": 0.22, "clip": true},
       "encoding": {"y": {"field": "l", "type": "quantitative", "scale": {"domain": [0.43, 0.99], "nice": false, "zero": false}, "axis": {"values": [0.6, 0.8], "format": ".1f", "title": "F₁-score", "titlePadding": 6, "labelPadding": 5}}, "y2": {"field": "h"}, "color": {"field": "s", "type": "nominal"}}},
      {"mark": {"type": "line", "strokeWidth": 1.5, "clip": true},
       "encoding": {"y": {"field": "m", "type": "quantitative"}, "color": {"field": "s", "type": "nominal"}}}
    ]
  }
},
{
  "data": {"name": "bottom"},
  "facet": {"column": {"field": "p", "type": "ordinal", "header": {"title": null, "labels": false}}},
  "spacing": 13,
  "spec": {
    "width": 143, "height": 85,
    "encoding": {"x": {"field": "x", "type": "quantitative", "scale": {"domain": [17, 72.6], "nice": false, "zero": false}, "axis": {"values": [20, 40, 60], "title": "Sample", "labelPadding": 6, "titlePadding": 4}}},
    "layer": [
      {"mark": {"type": "area", "opacity": 0.22, "clip": true},
       "encoding": {"y": {"field": "l", "type": "quantitative", "scale": {"domain": [0.01, 0.67], "nice": false, "zero": false}, "axis": {"values": [0.25, 0.5], "format": ".2f", "title": "P̃ₘᵢₛ", "titlePadding": 6, "labelPadding": 5}}, "y2": {"field": "h"}, "color": {"field": "s", "type": "nominal"}}},
      {"mark": {"type": "line", "strokeWidth": 1.5, "clip": true},
       "encoding": {"y": {"field": "m", "type": "quantitative"}, "color": {"field": "s", "type": "nominal", "scale": {"domain": ["a", "b"], "range": ["#4C72B0", "#DD8452"]},
         "legend": {"orient": "none", "legendX": 246, "legendY": 221, "direction": "horizontal", "title": null, "labelExpr": "datum.label == 'a' ? 'ψₘᵢₛ(ω = 0.2ξ)' : 'ψₘᵢₛ(ω = 0.0)'", "labelFontSize": 11, "labelColor": "#262626", "symbolType": "stroke", "symbolSize": 330, "symbolStrokeWidth": 1.5, "symbolOpacity": 1, "strokeColor": "#cccccc", "fillColor": "white", "padding": 6, "cornerRadius": 3, "columnPadding": 30, "labelOffset": 10,
           "encode": {"symbols": {"update": {"opacity": {"value": 1}, "strokeOpacity": {"value": 1}, "fillOpacity": {"value": 0}}}}}}}}
    ]
  }
}
],
"spacing": 12,
"resolve": {"scale": {"y": "independent"}}
}
